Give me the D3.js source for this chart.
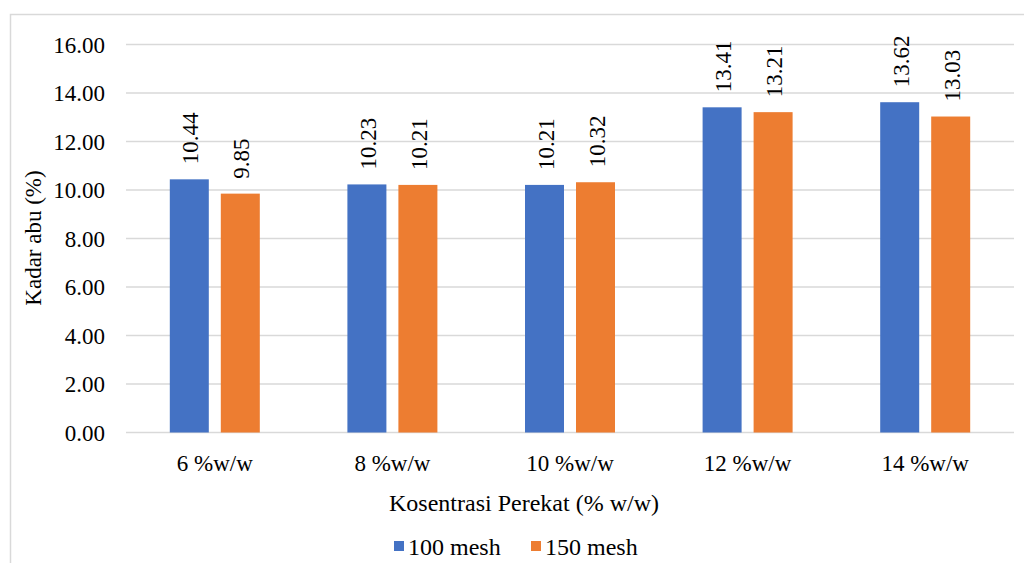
<!DOCTYPE html>
<html><head><meta charset="utf-8">
<script src="https://cdn.jsdelivr.net/npm/d3@7"></script>
<style>body{margin:0;background:#fff}svg{display:block}text{font-family:"Liberation Serif","Times New Roman",serif;fill:#000}</style>
</head><body><svg id="c" width="1024" height="563"></svg>
<script>
const categories = ["6 %w/w","8 %w/w","10 %w/w","12 %w/w","14 %w/w"];
const seriesNames = ["100 mesh","150 mesh"];
const mesh100 = [10.44,10.23,10.21,13.41,13.62];
const mesh150 = [9.85,10.21,10.32,13.21,13.03];
const yTicks = [0,2,4,6,8,10,12,14,16];
const colors = ["#4472C4","#ED7D31"];

const FS = 23;
const svg = d3.select("#c");
svg.append("rect").attr("x",10.5).attr("y",14.5).attr("width",1100).attr("height",600).attr("fill","none").attr("stroke","#d9d9d9").attr("stroke-width",1.5);

const m = {l:126,r:1014,t:44.5,b:432.5};
const x = d3.scaleBand().domain(categories).range([m.l,m.r]);
const y = d3.scaleLinear().domain([0,16]).range([m.b,m.t]);

const g = svg.append("g");
g.selectAll("line.grid").data(yTicks).join("line")
  .attr("x1",m.l).attr("x2",m.r).attr("y1",d=>y(d)).attr("y2",d=>y(d))
  .attr("stroke","#d9d9d9").attr("stroke-width",1.5);

const yAxis = d3.axisLeft(y).tickValues(yTicks).tickFormat(d3.format(".2f")).tickSize(0).tickPadding(0);
const ya = svg.append("g").attr("transform",`translate(105,0)`).call(yAxis);
ya.select(".domain").remove();
ya.attr("font-size",FS).attr("font-family",null);
ya.selectAll("text").attr("font-size",FS).attr("fill","#000").attr("dy","0.34em");

const xAxis = d3.axisBottom(x).tickSize(0).tickPadding(0);
const xa = svg.append("g").attr("transform",`translate(0,455)`).call(xAxis);
xa.select(".domain").remove();
xa.attr("font-size",FS).attr("font-family",null);
xa.selectAll("text").attr("font-size",FS).attr("fill","#000");

const barW = 39, gap = 12;
const data = categories.map((c,i)=>({c, vals:[mesh100[i],mesh150[i]]}));
data.forEach(d=>{
  const cx = x(d.c)+x.bandwidth()/2;
  d.vals.forEach((v,j)=>{
    const bx = cx + (j===0 ? -gap/2-barW : gap/2);
    g.append("rect").attr("x",bx).attr("y",y(v)).attr("width",barW).attr("height",y(0)-y(v)).attr("fill",colors[j]);
    g.append("text").attr("transform",`translate(${bx+barW/2+9},${y(v)-15}) rotate(-90)`)
      .attr("font-size",FS).attr("text-anchor","start").text(v.toFixed(2));
  });
});

svg.append("text").attr("transform",`translate(41,238) rotate(-90)`).attr("text-anchor","middle").attr("font-size",FS).text("Kadar abu (%)");
svg.append("text").attr("x",524).attr("y",511).attr("text-anchor","middle").attr("font-size",24).text("Kosentrasi Perekat (% w/w)");

const legX = [394,531];
seriesNames.forEach((s,i)=>{
  svg.append("rect").attr("x",legX[i]).attr("y",541).attr("width",10).attr("height",10).attr("fill",colors[i]);
  svg.append("text").attr("x",legX[i]+14).attr("y",555).attr("font-size",24).text(s);
});
</script></body></html>
